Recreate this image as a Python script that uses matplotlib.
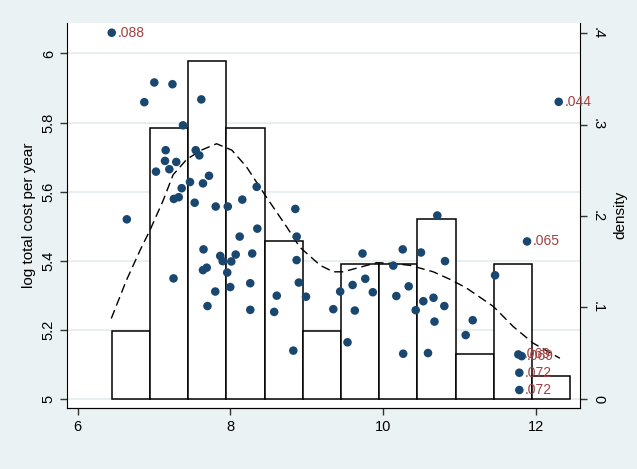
import numpy as np
import matplotlib.pyplot as plt
from matplotlib.lines import Line2D
from matplotlib.transforms import blended_transform_factory

plt.rcParams['font.family'] = ['Liberation Sans', 'DejaVu Sans']

# firms: log customers (x) and log total cost per year (y)
log_customers = [
    7.004, 7.242, 6.873, 7.620, 7.380, 7.153, 7.547, 7.594, 7.144, 7.292,
    7.026, 7.201, 7.721, 7.472, 7.642, 7.363, 8.346, 7.324, 7.260, 7.533,
    7.809, 7.967, 8.157, 8.852, 6.644, 8.354, 8.123, 8.870, 7.649, 7.868,
    8.071, 8.287, 7.900, 8.013, 8.869, 7.256, 7.642, 7.691, 7.960, 8.261,
    8.898, 7.803, 7.999, 8.609, 8.992, 7.701, 8.262, 8.575, 8.826, 9.440,
    9.603, 9.350, 9.632, 9.536, 10.713, 9.733, 10.260, 10.499, 10.814, 10.136,
    9.769, 9.868, 10.176, 10.338, 10.430, 10.530, 10.663, 10.805, 10.676, 11.177,
    11.085, 11.470, 10.266, 10.591,
    6.446, 12.304, 11.889, 11.775, 11.819, 11.788, 11.788,
]
log_cost = [
    5.916, 5.911, 5.859, 5.867, 5.792, 5.720, 5.720, 5.705, 5.689, 5.686,
    5.658, 5.665, 5.646, 5.628, 5.624, 5.610, 5.614, 5.584, 5.579, 5.568,
    5.557, 5.557, 5.577, 5.550, 5.520, 5.493, 5.470, 5.470, 5.433, 5.414,
    5.418, 5.421, 5.399, 5.398, 5.402, 5.349, 5.373, 5.380, 5.366, 5.335,
    5.337, 5.311, 5.324, 5.299, 5.296, 5.269, 5.258, 5.252, 5.140, 5.311,
    5.330, 5.260, 5.256, 5.164, 5.531, 5.421, 5.433, 5.424, 5.399, 5.386,
    5.348, 5.309, 5.298, 5.326, 5.257, 5.283, 5.293, 5.269, 5.224, 5.228,
    5.185, 5.358, 5.131, 5.133,
    6.060, 5.860, 5.456, 5.129, 5.124, 5.076, 5.026,
]
# the last seven firms carry a marker label
marker_labels = ['.088', '.044', '.065', '.069', '.069', '.072', '.072']

# histogram of log customers
bin_start = 6.445
bin_width = 0.501
n_bins = 12

# kernel density estimate of log customers
kde_x = [6.44, 6.64, 6.82, 6.95, 7.12, 7.25, 7.43, 7.62, 7.82, 8.02,
         8.21, 8.47, 8.74, 8.91, 9.18, 9.35, 9.48, 9.70, 9.92, 10.15,
         10.36, 10.66, 10.90, 11.10, 11.45, 11.71, 11.97, 12.32]
kde_density = [0.088, 0.130, 0.163, 0.185, 0.217, 0.245, 0.262, 0.272, 0.279, 0.272,
               0.254, 0.221, 0.188, 0.166, 0.146, 0.139, 0.139, 0.144, 0.149, 0.148,
               0.146, 0.139, 0.130, 0.121, 0.101, 0.079, 0.061, 0.0445]

bg = '#eaf2f3'
navy = '#1a476f'
maroon = '#a0403f'

fig = plt.figure(figsize=(6.37, 4.69), dpi=100, facecolor=bg)
ax2 = fig.add_axes([0.1052, 0.1301, 0.8053, 0.8215])
ax = ax2.twinx()
ax.yaxis.tick_left()
ax.yaxis.set_label_position('left')
ax2.yaxis.tick_right()
ax2.yaxis.set_label_position('right')
ax.set_zorder(2)
ax2.set_zorder(1)
ax.patch.set_visible(False)
ax2.set_facecolor('white')

ax.set_xlim(5.86, 12.583)
ax.set_ylim(4.974, 6.089)
ax2.set_ylim(-0.00984, 0.4113)

# horizontal grid at the cost ticks
yticks = [5, 5.2, 5.4, 5.6, 5.8, 6]
trans = blended_transform_factory(ax2.transAxes, ax.transData)
for v in yticks:
    ax2.add_line(Line2D([0, 1], [v, v], transform=trans, color='#e3ecef',
                        lw=1.2, zorder=0))

edges = bin_start + bin_width * np.arange(n_bins + 1)
ax2.hist(log_customers, bins=edges, density=True, facecolor='white',
         edgecolor='black', linewidth=1.1, zorder=1)
ax2.plot(kde_x, kde_density, color='black', lw=1.0, ls=(0, (6.5, 3.5)), zorder=3)

ax.scatter(log_customers, log_cost, s=38, color=navy, edgecolors='none', zorder=4)
n_lab = len(marker_labels)
for xv, yv, lab in zip(log_customers[-n_lab:], log_cost[-n_lab:], marker_labels):
    ax.annotate(lab, (xv, yv), xytext=(4, 0), textcoords='offset points',
                ha='left', va='center', color=maroon, fontsize=10, zorder=5)

ax.set_xticks([6, 8, 10, 12])
ax.set_xticklabels(['6', '8', '10', '12'])
ax.set_yticks(yticks)
ax.set_yticklabels(['5', '5.2', '5.4', '5.6', '5.8', '6'], rotation=90, va='center')
ax2.set_yticks([0, 0.1, 0.2, 0.3, 0.4])
ax2.set_yticklabels(['0', '.1', '.2', '.3', '.4'], rotation=-90, va='center')

for a in (ax, ax2):
    a.spines['top'].set_visible(False)
    a.tick_params(length=5, width=1, labelsize=10.5, color='#333333')
ax.spines['right'].set_visible(False)
ax2.spines['left'].set_visible(False)
ax.tick_params(axis='y', pad=3)
ax2.tick_params(axis='y', pad=3)

ax.set_xlabel('log customers', fontsize=11)
ax.set_ylabel('log total cost per year', fontsize=11, labelpad=4)
ax2.set_ylabel('density', fontsize=11, rotation=90, labelpad=6)

fig.savefig('out.png', dpi=100, facecolor=bg)
